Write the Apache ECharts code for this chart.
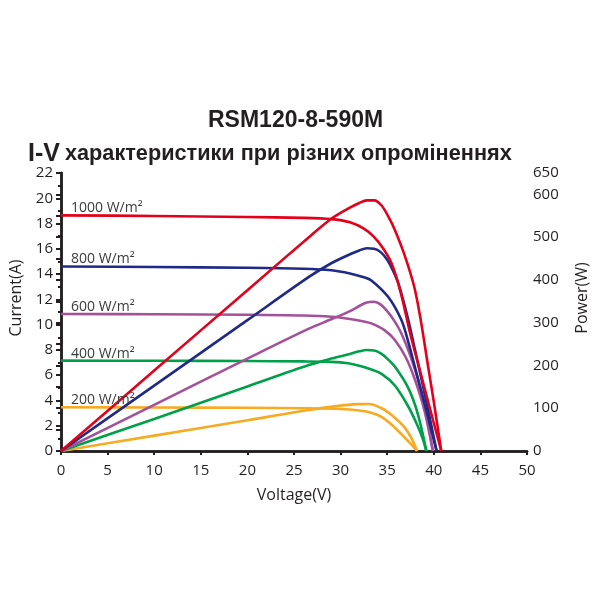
<!DOCTYPE html>
<html>
<head>
<meta charset="utf-8">
<script src="https://cdn.jsdelivr.net/npm/echarts@6/dist/echarts.min.js"></script>
<style>
  html, body { margin: 0; padding: 0; background: #fff; }
  #chart { width: 600px; height: 600px; }
</style>
</head>
<body>
<div id="chart"></div>
<script>
// I-V curves (current, A) and power curves (W)
const irradiance = ['1000 W/m²', '800 W/m²', '600 W/m²', '400 W/m²', '200 W/m²']
const colors = ['#e2001a', '#1f2a86', '#a4519c', '#00a04a', '#f8aa22']

const voltIv1000 = [0, 10, 20, 26, 29, 31, 32.5, 33.5, 34.5, 35.5, 36.5, 37.5, 38.5, 39.5, 40.8]
const curr1000 = [18.65, 18.6, 18.52, 18.45, 18.35, 18.1, 17.6, 17.0, 16.1, 14.8, 12.4, 9.2, 6.4, 3.6, 0]
const voltP1000 = [0, 10, 20, 26.6, 29, 31, 32, 32.8, 33.6, 34.4, 35.2, 35.8, 36.8, 37.9, 38.6, 39.3, 40.0, 40.8]
const pow1000 = [0, 188, 376, 500, 543, 569, 580, 586, 586, 574, 545, 518, 462, 384, 306, 210, 115, 0]

const voltIv800 = [0, 10, 20, 26, 29, 31, 32.5, 33.3, 35.1, 36.5, 37.2, 38.2, 39.2, 40.3]
const curr800 = [14.6, 14.56, 14.5, 14.42, 14.3, 14.05, 13.75, 13.5, 12.2, 10.4, 8.8, 6.0, 3.2, 0]
const voltP800 = [0, 10, 20, 26.6, 29, 31, 32, 32.8, 33.6, 34.3, 35, 35.6, 36.2, 37.2, 38.2, 39.3, 40.3]
const pow800 = [0, 153, 306, 407, 439, 460, 469, 474, 473, 465, 447, 423, 392, 312, 215, 105, 0]

const voltIv600 = [0, 10, 20, 26, 29, 31, 32.5, 33.3, 34.7, 35.8, 37, 38, 39, 39.9]
const curr600 = [10.84, 10.82, 10.78, 10.72, 10.62, 10.45, 10.25, 10.1, 9.57, 8.8, 7.4, 5.6, 3.2, 0]
const voltP600 = [0, 10, 20, 26.6, 29, 31, 32, 32.8, 33.5, 34.2, 35, 35.8, 36.5, 37.5, 38.5, 39.2, 39.9]
const pow600 = [0, 108, 216, 286, 308, 327, 339, 347, 349, 344, 327, 303, 276, 222, 152, 85, 0]

const voltIv400 = [0, 10, 20, 26, 29, 30.8, 32, 33.3, 34.4, 35.8, 37.2, 38.2, 38.8, 39.2]
const curr400 = [7.15, 7.14, 7.12, 7.09, 7.05, 6.94, 6.75, 6.45, 6.1, 5.2, 3.6, 2.1, 1.0, 0]
const voltP400 = [0, 10, 20, 26.6, 29, 31, 32, 32.8, 33.6, 34.4, 35.2, 35.9, 37.2, 38, 38.6, 39.2]
const pow400 = [0, 75, 151, 201, 216, 227, 233, 236, 235, 227, 212, 195, 150, 107, 60, 0]

const voltIv200 = [0, 10, 20, 26.6, 30, 32, 33.3, 34.4, 35.6, 36.8, 37.6, 38.2]
const curr200 = [3.46, 3.44, 3.42, 3.38, 3.32, 3.2, 3.03, 2.7, 2.0, 1.13, 0.5, 0]
const voltP200 = [0, 10, 20, 26.6, 30, 32, 33, 34.4, 35.6, 36.8, 37.6, 38.2]
const pow200 = [0, 36, 72, 96, 106, 109.5, 110, 100, 82, 57, 30, 0]

const ivSets = [[voltIv1000, curr1000], [voltIv800, curr800], [voltIv600, curr600], [voltIv400, curr400], [voltIv200, curr200]]
const powSets = [[voltP1000, pow1000], [voltP800, pow800], [voltP600, pow600], [voltP400, pow400], [voltP200, pow200]]

const ink = '#231f20'
const pairs = (xs, ys) => xs.map((x, i) => [x, ys[i]])

const series = []
for (let k = ivSets.length - 1; k >= 0; k--) {
    const [vi, ci] = ivSets[k]
    const [vp, pp] = powSets[k]
    series.push({
        type: 'line', yAxisIndex: 0, data: pairs(vi, ci),
        smooth: 0.3, showSymbol: false,
        lineStyle: { color: colors[k], width: 2.6 },
        markPoint: {
            symbol: 'circle', symbolSize: 0, silent: true,
            data: [{ coord: [0, ci[0]] }],
            label: {
                show: true, position: [10, -14], formatter: irradiance[k],
                color: '#3a3a3a', fontFamily: 'Open Sans', fontSize: 14
            }
        }
    })
    series.push({
        type: 'line', yAxisIndex: 1, data: pairs(vp, pp),
        smooth: 0.3, showSymbol: false,
        lineStyle: { color: colors[k], width: 2.6 }
    })
}

const chart = echarts.init(document.getElementById('chart'))
chart.setOption({
    backgroundColor: '#fff',
    animation: false,
    title: [{
        text: 'RSM120-8-590M', left: 203, top: 104,
        textStyle: { fontFamily: 'Liberation Sans', fontWeight: 'bold', fontSize: 23, color: ink }
    }, {
        text: '{a|I-V} {b|характеристики при різних опроміненнях}', left: 23, top: 137,
        textStyle: {
            rich: {
                a: { fontFamily: 'Liberation Sans', fontWeight: 'bold', fontSize: 25, color: ink },
                b: { fontFamily: 'Liberation Sans', fontWeight: 'bold', fontSize: 21.7, color: ink }
            }
        }
    }],
    grid: { left: 57, right: 73, top: 173, bottom: 149 },
    xAxis: [{
        type: 'value', min: 0, max: 50, interval: 5, position: 'bottom',
        name: 'Voltage(V)', nameLocation: 'middle', nameGap: 36,
        nameTextStyle: { fontFamily: 'Open Sans', fontSize: 16, color: ink },
        axisLine: { lineStyle: { color: ink, width: 2.5 } },
        axisTick: { length: 4, lineStyle: { color: ink, width: 2 } },
        axisLabel: { margin: 12, fontFamily: 'Open Sans', fontSize: 15, color: ink },
        splitLine: { show: false }
    }, {
        type: 'value', min: 0, max: 50, interval: 5, position: 'top',
        axisLine: { lineStyle: { color: ink, width: 2.5 } },
        axisTick: { inside: true, length: 4, lineStyle: { color: ink, width: 2 } },
        axisLabel: { show: false },
        splitLine: { show: false }
    }],
    yAxis: [{
        type: 'value', min: 0, max: 22, interval: 2, position: 'left',
        name: 'Current(A)', nameLocation: 'middle', nameGap: 37, nameRotate: 90,
        nameTextStyle: { fontFamily: 'Open Sans', fontSize: 16, color: ink, padding: [0, 0, 0, 28] },
        axisLine: { lineStyle: { color: ink, width: 2.5 } },
        axisTick: { length: 5, lineStyle: { color: ink, width: 2 } },
        minorTick: { show: true, splitNumber: 2, length: 3, lineStyle: { color: ink, width: 2 } },
        axisLabel: { margin: 8, fontFamily: 'Open Sans', fontSize: 15, color: ink },
        splitLine: { show: false }
    }, {
        type: 'value', min: 0, max: 650, interval: 50, position: 'right',
        name: 'Power(W)', nameLocation: 'middle', nameGap: 47, nameRotate: 90,
        nameTextStyle: { fontFamily: 'Open Sans', fontSize: 16, color: ink, padding: [0, 0, 0, 28] },
        axisLine: { lineStyle: { color: ink, width: 2.5 } },
        axisTick: { inside: true, length: 5, lineStyle: { color: ink, width: 2 } },
        axisLabel: {
            margin: 6, fontFamily: 'Open Sans', fontSize: 15, color: ink,
            formatter: v => (v % 100 === 0 || v === 650 ? String(v) : '')
        },
        splitLine: { show: false }
    }],
    series: series
})
</script>
</body>
</html>
